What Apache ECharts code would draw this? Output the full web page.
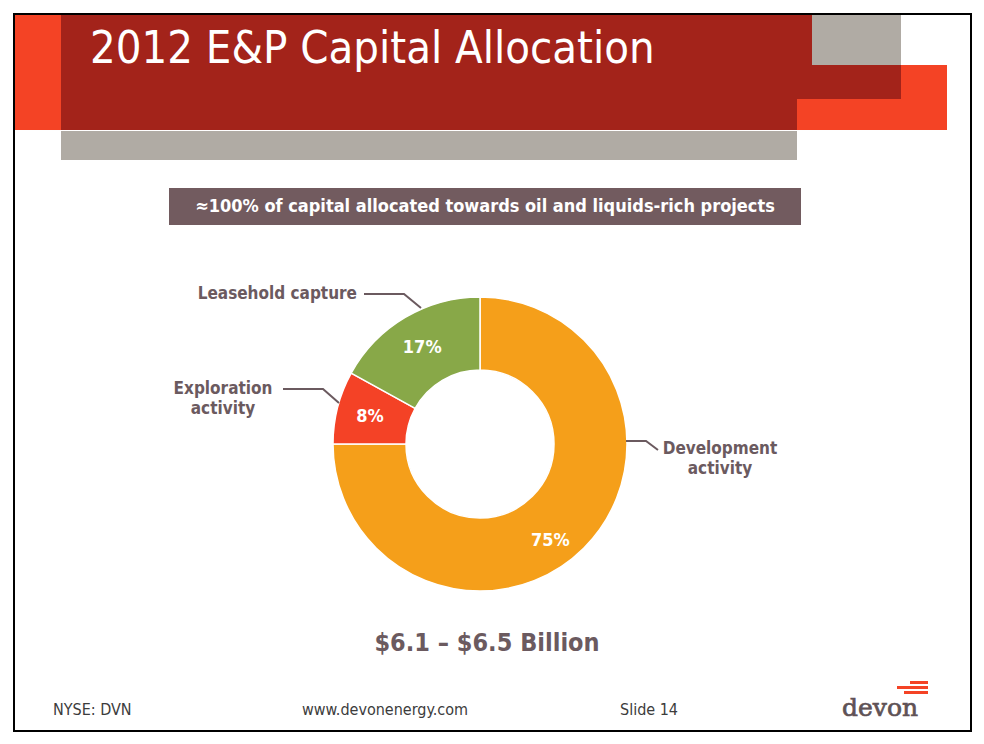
<!DOCTYPE html>
<html>
<head>
<meta charset="utf-8">
<script src="https://cdn.jsdelivr.net/npm/echarts@6/dist/echarts.min.js"></script>
<style>
html,body{margin:0;padding:0;background:#fff;}
#chart{width:984px;height:744px;}
</style>
</head>
<body>
<div id="chart"></div>
<script>
// ---- data ----
const categories = ['Development activity', 'Exploration activity', 'Leasehold capture'];
const calloutNames = ['Development\nactivity', 'Exploration\nactivity', 'Leasehold capture'];
const sharePct = [75, 8, 17];
const titleText = '2012 E&P Capital Allocation';
const subtitleText = '\u2248100% of capital allocated towards oil and liquids-rich projects';
const totalText = '$6.1 \u2013 $6.5 Billion';
const footerTexts = ['NYSE: DVN', 'www.devonenergy.com', 'Slide 14'];

// ---- style / layout ----
const sliceColors = ['#f59f1a', '#f44226', '#88a848'];
const darkRed = '#a3231a', brightRed = '#f44325', grey = '#b0aba4', mauve = '#725b5f', labelCol = '#6b5a5f';
const FONT = '"DejaVu Sans Condensed", "DejaVu Sans", sans-serif';
const CENTER = [480, 444];
const RADII = [74, 147];
// callout placement (label anchor + leader line), per category
const callouts = [
  { x: 720, y: 458, align: 'center', line: [[626, 441], [646, 441], [658, 450]] },
  { x: 223, y: 398, align: 'center', line: [[339, 403], [323, 389], [283, 389]] },
  { x: 357, y: 293, align: 'right',  line: [[421, 308], [404, 294], [364, 294]] }
];
const insideShift = [[-10, 15], [0, 0], [0, 0]];

const pieData = categories.map((c, i) => ({ name: c, value: sharePct[i], itemStyle: { color: sliceColors[i] } }));
const calloutData = categories.map((c, i) => ({ name: calloutNames[i], value: sharePct[i] }));

const chart = echarts.init(document.getElementById('chart'), null, { renderer: 'svg' });

const graphics = [
  // frame
  { type: 'rect', shape: { x: 14, y: 14, width: 957, height: 717 }, style: { fill: 'none', stroke: '#000', lineWidth: 2 }, z: 100 },
  // banner
  { type: 'rect', shape: { x: 14, y: 14, width: 47, height: 116 }, style: { fill: brightRed } },
  { type: 'rect', shape: { x: 61, y: 14, width: 840, height: 85 }, style: { fill: darkRed } },
  { type: 'rect', shape: { x: 61, y: 99, width: 736, height: 31 }, style: { fill: darkRed } },
  { type: 'rect', shape: { x: 812, y: 14, width: 89, height: 51 }, style: { fill: grey } },
  { type: 'rect', shape: { x: 901, y: 65, width: 46, height: 65 }, style: { fill: brightRed } },
  { type: 'rect', shape: { x: 797, y: 99, width: 150, height: 31 }, style: { fill: brightRed } },
  { type: 'rect', shape: { x: 61, y: 131, width: 736, height: 29 }, style: { fill: grey } },
  { type: 'text', x: 90, y: 47, style: { text: titleText, fill: '#fff', font: 'normal 45px ' + FONT, align: 'left', verticalAlign: 'middle' } },
  // subtitle box
  { type: 'rect', shape: { x: 169, y: 188, width: 632, height: 37 }, style: { fill: mauve } },
  { type: 'text', x: 485, y: 205, style: { text: subtitleText, fill: '#fff', font: 'bold 18px ' + FONT, align: 'center', verticalAlign: 'middle' } },
  // total
  { type: 'text', x: 487, y: 642, style: { text: totalText, fill: labelCol, font: 'bold 25px ' + FONT, align: 'center', verticalAlign: 'middle' } },
  // footer
  { type: 'text', x: 53, y: 709, style: { text: footerTexts[0], fill: '#3c3c3c', font: 'normal 16px ' + FONT, align: 'left', verticalAlign: 'middle' } },
  { type: 'text', x: 385, y: 709, style: { text: footerTexts[1], fill: '#3c3c3c', font: 'normal 16px ' + FONT, align: 'center', verticalAlign: 'middle' } },
  { type: 'text', x: 620, y: 709, style: { text: footerTexts[2], fill: '#3c3c3c', font: 'normal 16px ' + FONT, align: 'left', verticalAlign: 'middle' } },
  // logo
  { type: 'rect', shape: { x: 910, y: 681, width: 18, height: 3 }, style: { fill: brightRed } },
  { type: 'rect', shape: { x: 897, y: 686, width: 31, height: 3 }, style: { fill: brightRed } },
  { type: 'rect', shape: { x: 904, y: 691, width: 24, height: 3 }, style: { fill: brightRed } },
  { type: 'text', x: 880, y: 707, style: { text: 'devon', fill: '#5f5256', stroke: '#5f5256', lineWidth: 0.7, font: 'normal 25px "DejaVu Serif", serif', align: 'center', verticalAlign: 'middle' } }
];

chart.setOption({
  animation: false,
  graphic: { elements: graphics },
  series: [
    {
      type: 'pie',
      center: CENTER,
      radius: RADII,
      startAngle: 90,
      clockwise: true,
      silent: true,
      data: pieData,
      itemStyle: { borderColor: '#fff', borderWidth: 1.5 },
      label: { show: true, position: 'inside', formatter: '{d}%', color: '#fff', fontFamily: FONT, fontWeight: 'bold', fontSize: 18 },
      labelLine: { show: false },
      labelLayout: function (p) {
        const s = insideShift[p.dataIndex];
        return { x: p.labelRect.x + p.labelRect.width / 2 + s[0], y: p.labelRect.y + p.labelRect.height / 2 + s[1], align: 'center', verticalAlign: 'middle' };
      },
      emphasis: { disabled: true }
    },
    {
      type: 'pie',
      center: CENTER,
      radius: RADII,
      startAngle: 90,
      clockwise: true,
      silent: true,
      z: 3,
      avoidLabelOverlap: false,
      data: calloutData,
      itemStyle: { color: 'rgba(0,0,0,0)', borderWidth: 0 },
      label: { show: true, position: 'outside', formatter: '{b}', color: labelCol, fontFamily: FONT, fontWeight: 'bold', fontSize: 17, lineHeight: 20, align: 'center' },
      labelLine: { show: true, length: 15, length2: 20, lineStyle: { color: labelCol, width: 2 } },
      labelLayout: function (p) {
        const c = callouts[p.dataIndex];
        return { x: c.x, y: c.y, align: c.align, verticalAlign: 'middle', labelLinePoints: c.line };
      },
      emphasis: { disabled: true }
    }
  ]
});
</script>
</body>
</html>
